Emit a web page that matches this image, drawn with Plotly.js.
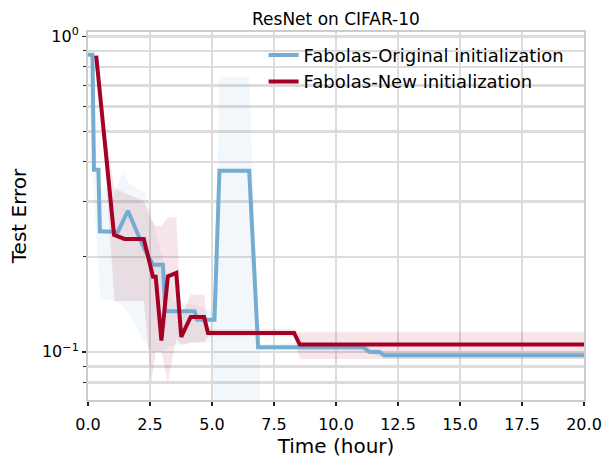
<!DOCTYPE html>
<html>
<head>
<meta charset="utf-8">
<script src="https://cdn.plot.ly/plotly-3.0.1.min.js"></script>
<style>
  html, body { margin: 0; padding: 0; background: #fff; }
  #chart { width: 613px; height: 465px; }
</style>
</head>
<body>
<div id="chart"></div>
<script>
// mean curves (hours, test error)
const origX = [0, 0.18, 0.24, 0.42, 0.48, 1.2, 1.61, 2.21, 2.62, 3.02, 3.12, 4.3, 4.4, 5.1, 5.3, 6.5, 6.86, 11.1, 11.35, 11.75, 11.95, 20];
const origY = [0.875, 0.875, 0.378, 0.378, 0.241, 0.24, 0.28, 0.217, 0.189, 0.189, 0.1345, 0.1345, 0.1265, 0.1265, 0.375, 0.375, 0.1035, 0.1035, 0.100, 0.100, 0.0975, 0.0975];

const newX = [0.33, 1.05, 1.47, 2.25, 2.62, 2.73, 2.96, 3.22, 3.56, 3.76, 4.14, 4.68, 4.84, 8.31, 8.54, 20];
const newY = [0.869, 0.235, 0.228, 0.228, 0.173, 0.173, 0.1086, 0.1735, 0.178, 0.1116, 0.129, 0.129, 0.1148, 0.1148, 0.1055, 0.1055];

// shaded spread around each curve
const origBandX  = [0, 0.25, 0.5, 1.0, 1.4, 1.7, 2.3, 2.6, 3.0, 3.4, 4.4, 5.0, 5.1, 5.3, 6.5, 6.9, 6.95, 11.0, 12.0, 20];
const origBandHi = [0.875, 0.48, 0.33, 0.31, 0.37, 0.34, 0.32, 0.26, 0.2, 0.145, 0.14, 0.135, 0.13, 0.745, 0.745, 0.106, 0.106, 0.106, 0.1, 0.1];
const origBandLo = [0.875, 0.3, 0.146, 0.146, 0.14, 0.13, 0.107, 0.1, 0.1, 0.105, 0.107, 0.107, 0.06, 0.06, 0.06, 0.06, 0.101, 0.101, 0.095, 0.095];

const newBandX  = [0.33, 0.7, 1.07, 1.45, 2.25, 2.55, 2.73, 2.96, 3.22, 3.56, 3.76, 4.14, 4.68, 4.84, 8.31, 8.54, 20];
const newBandHi = [0.869, 0.5, 0.33, 0.32, 0.30, 0.263, 0.25, 0.25, 0.267, 0.267, 0.13, 0.152, 0.152, 0.118, 0.118, 0.1155, 0.1155];
const newBandLo = [0.869, 0.38, 0.145, 0.145, 0.145, 0.08, 0.1, 0.1, 0.08, 0.11, 0.105, 0.107, 0.107, 0.112, 0.112, 0.095, 0.095];

const seriesNames = ["Fabolas-Original initialization", "Fabolas-New initialization"];
const yMajorVals = [0.1, 1];
const yMajorText = ["10<sup>\u22121</sup>", "10<sup>0</sup>"];
const yMinorVals = [0.08, 0.09, 0.2, 0.3, 0.4, 0.5, 0.6, 0.7, 0.8, 0.9];

const BLUE = "#74add1";
const RED = "#a50026";
const GRID = "#dcdcdc";
const FONT = "DejaVu Sans, sans-serif";

function band(xs, hi, lo, color) {
  // closed polygon: upper edge forward, lower edge back
  return {
    x: xs.concat(xs.slice().reverse()),
    y: hi.concat(lo.slice().reverse()),
    fill: "toself",
    fillcolor: color,
    line: { width: 0 },
    mode: "lines",
    hoverinfo: "skip",
    showlegend: false
  };
}

const traces = [
  band(origBandX, origBandHi, origBandLo, "rgba(116,173,209,0.1)"),
  band(newBandX, newBandHi, newBandLo, "rgba(165,0,38,0.1)"),
  { x: origX, y: origY, mode: "lines", name: seriesNames[0], line: { color: BLUE, width: 4 } },
  { x: newX, y: newY, mode: "lines", name: seriesNames[1], line: { color: RED, width: 4 } }
];

const layout = {
  width: 613,
  height: 465,
  margin: { l: 88, r: 29, t: 32, b: 65 },
  paper_bgcolor: "#fff",
  plot_bgcolor: "#fff",
  font: { family: FONT, color: "#000" },
  title: {
    text: "ResNet on CIFAR-10",
    font: { size: 17, family: FONT, color: "#000" },
    x: 0.548, xanchor: "center",
    y: 0.959, yanchor: "middle"
  },
  xaxis: {
    range: [0, 20],
    tick0: 0, dtick: 2.5, tickformat: ".1f",
    ticks: "outside", ticklen: 4, tickwidth: 1.3, tickcolor: "#222",
    ticklabelstandoff: 5,
    tickfont: { size: 16, family: FONT },
    showgrid: true, gridcolor: GRID, gridwidth: 2.5,
    zeroline: false,
    showline: true, mirror: true, linecolor: "#cccccc", linewidth: 2,
    title: { text: "Time (hour)", font: { size: 20, family: FONT }, standoff: 0 }
  },
  yaxis: {
    type: "log",
    range: [-1.1525, 0.014],
    tickmode: "array", tickvals: yMajorVals, ticktext: yMajorText,
    ticks: "outside", ticklen: 4, tickwidth: 1.3, tickcolor: "#222",
    tickfont: { size: 16, family: FONT },
    showgrid: true, gridcolor: GRID, gridwidth: 2.5,
    minor: {
      tickmode: "array", tickvals: yMinorVals,
      ticks: "outside", ticklen: 3, tickwidth: 1, tickcolor: "#222",
      showgrid: true, gridcolor: GRID, gridwidth: 2.5
    },
    zeroline: false,
    showline: true, mirror: true, linecolor: "#cccccc", linewidth: 2,
    title: { text: "Test Error", font: { size: 20, family: FONT }, standoff: 10 }
  },
  legend: {
    x: 0.354, xanchor: "left",
    y: 0.987, yanchor: "top",
    bgcolor: "rgba(0,0,0,0)",
    font: { size: 18, family: FONT, color: "#000" }
  }
};

Plotly.newPlot("chart", traces, layout, { displayModeBar: false, staticPlot: true });
</script>
</body>
</html>
